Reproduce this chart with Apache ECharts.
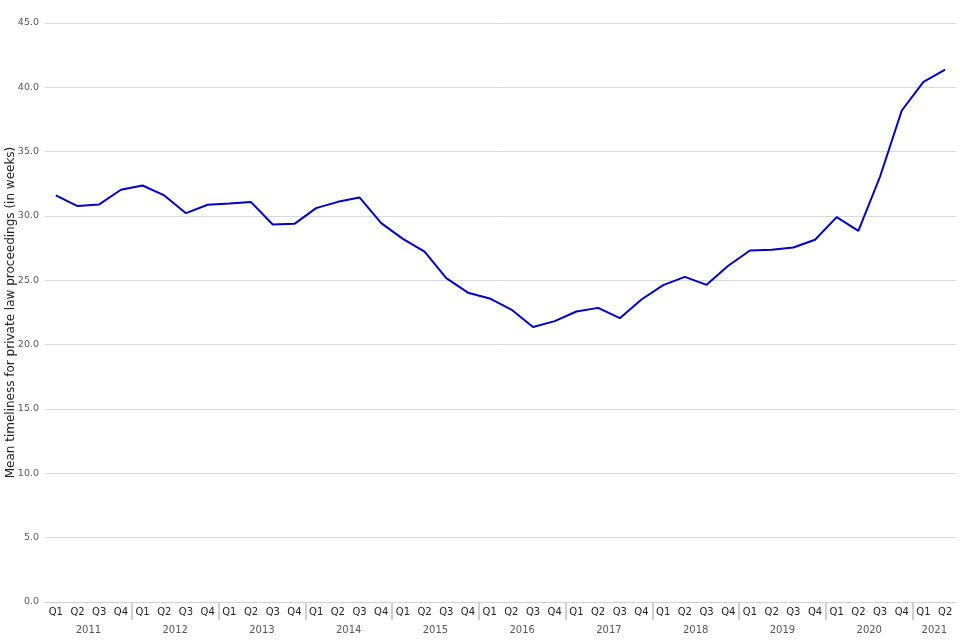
<!DOCTYPE html>
<html>
<head>
<meta charset="utf-8">
<script src="https://cdn.jsdelivr.net/npm/echarts@6/dist/echarts.min.js"></script>
<style>html,body{margin:0;padding:0;background:#fff}#c{width:960px;height:640px}</style>
</head>
<body>
<div id="c"></div>
<script>
const years = ['2011','2012','2013','2014','2015','2016','2017','2018','2019','2020','2021'];
const quarters = [
 'Q1','Q2','Q3','Q4','Q1','Q2','Q3','Q4','Q1','Q2','Q3','Q4','Q1','Q2','Q3','Q4',
 'Q1','Q2','Q3','Q4','Q1','Q2','Q3','Q4','Q1','Q2','Q3','Q4','Q1','Q2','Q3','Q4',
 'Q1','Q2','Q3','Q4','Q1','Q2','Q3','Q4','Q1','Q2'];
const timeliness = [
 31.6, 30.77, 30.9, 32.04, 32.37, 31.6, 30.22, 30.87, 30.97, 31.08, 29.34, 29.39,
 30.61, 31.1, 31.44, 29.45, 28.22, 27.24, 25.17, 24.04, 23.59, 22.73, 21.38, 21.83,
 22.58, 22.86, 22.06, 23.51, 24.63, 25.27, 24.65, 26.13, 27.32, 27.37, 27.55, 28.15,
 29.91, 28.84, 33.07, 38.2, 40.43, 41.37];
const yTicks = [0, 5, 10, 15, 20, 25, 30, 35, 40, 45];

// year label positions (centre of each year's quarters, in band units)
const yearCentres = {};
years.forEach((y, i) => {
  const start = i * 4;
  const n = Math.min(4, quarters.length - start);
  yearCentres[start + n / 2] = y;
});
// band boundaries (0..n) for the year separators
const boundaries = Array.from({ length: quarters.length + 1 }, (_, i) => String(i));

const chart = echarts.init(document.getElementById('c'));
chart.setOption({
  animation: false,
  textStyle: { fontFamily: 'DejaVu Sans' },
  grid: { left: 45, right: 4, top: 23, bottom: 38, containLabel: false, outerBoundsMode: 'none' },
  xAxis: [{
    type: 'category',
    data: quarters,
    boundaryGap: true,
    axisLine: { show: true, lineStyle: { color: '#d0d0d0', width: 1 } },
    axisTick: { show: false },
    axisLabel: { interval: 0, fontSize: 10, color: '#222', margin: 5 },
    splitLine: { show: false }
  }, {
    type: 'value',
    position: 'bottom',
    offset: 18,
    min: 0, max: quarters.length, interval: 1,
    axisLine: { show: false },
    axisTick: { show: false },
    splitLine: { show: false },
    axisLabel: {
      fontSize: 10, color: '#555', margin: 5, showMinLabel: true, showMaxLabel: true,
      formatter: (v) => yearCentres[v] || ''
    }
  }, {
    type: 'category',
    position: 'bottom',
    data: boundaries,
    boundaryGap: false,
    axisLine: { show: false },
    axisLabel: { show: false },
    splitLine: { show: false },
    axisTick: {
      show: true, length: 18, lineStyle: { color: '#d0d0d0', width: 2 },
      interval: (i) => i > 0 && i < quarters.length && i % 4 === 0
    }
  }],
  yAxis: {
    type: 'value',
    min: 0, max: 45, interval: 5,
    name: 'Mean timeliness for private law proceedings (in weeks)',
    nameLocation: 'middle',
    nameGap: 28,
    nameMoveOverlap: false,
    nameTextStyle: { fontSize: 12, color: '#222' },
    axisLine: { show: false },
    axisTick: { show: false },
    axisLabel: { fontSize: 9.5, color: '#555', margin: 6, formatter: (v) => yTicks.includes(v) ? v.toFixed(1) : '' },
    splitLine: { lineStyle: { color: '#d9d9d9', width: 1 } }
  },
  series: [{
    type: 'line',
    xAxisIndex: 0,
    data: timeliness,
    showSymbol: false,
    lineStyle: { color: '#0000cc', width: 2 },
    itemStyle: { color: '#0000cc' }
  }]
});
</script>
</body>
</html>
